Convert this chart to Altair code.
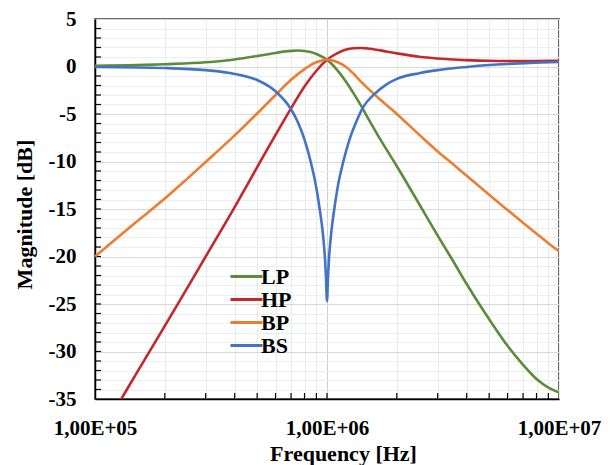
import altair as alt
import pandas as pd

# ---------------- data ----------------
lp_f = [1e5, 1.5e5, 2e5, 3e5, 4e5, 5e5, 6e5, 7e5, 7.5e5, 8e5, 8.5e5, 9e5, 9.5e5, 1e6,
        1.1e6, 1.2e6, 1.3e6, 1.4e6, 1.5e6, 1.7e6, 2e6, 2.5e6, 3e6, 3.5e6, 4e6, 4.5e6,
        5e6, 6e6, 7e6, 8e6, 9e6, 1e7]
lp_db = [0.07, 0.14, 0.24, 0.44, 0.74, 1.10, 1.43, 1.64, 1.68, 1.64, 1.52, 1.32, 1.05, 0.72,
         -0.30, -1.50, -2.80, -4.10, -5.40, -7.70, -10.5, -14.5, -17.8, -20.5, -22.9, -24.9,
         -26.6, -29.4, -31.4, -32.9, -33.8, -34.3]

hp_f = [1e5, 1.2e5, 1.5e5, 2e5, 2.5e5, 3e5, 4e5, 5e5, 6e5, 7e5, 8e5, 9e5, 9.5e5, 1e6,
        1.05e6, 1.1e6, 1.2e6, 1.3e6, 1.4e6, 1.5e6, 1.7e6, 2e6, 2.5e6, 3e6, 3.5e6, 4e6,
        5e6, 6e6, 8e6, 1e7]
hp_db = [-39.6, -36.4, -32.4, -27.3, -23.3, -20.0, -14.8, -10.6, -7.2, -4.4, -2.1, -0.45, 0.2,
         0.72, 1.08, 1.36, 1.76, 1.92, 1.95, 1.90, 1.70, 1.38, 1.02, 0.84, 0.73, 0.67,
         0.60, 0.58, 0.58, 0.60]

bp_f = [1e5, 1.5e5, 2e5, 2.5e5, 3e5, 4e5, 5e5, 6e5, 7e5, 8e5, 8.5e5, 9e5, 9.5e5, 1e6,
        1.05e6, 1.1e6, 1.2e6, 1.3e6, 1.4e6, 1.5e6, 1.7e6, 2e6, 2.5e6, 3e6, 3.5e6, 4e6,
        5e6, 6e6, 7e6, 8e6, 9e6, 1e7]
bp_db = [-20.0, -16.4, -13.9, -11.8, -10.05, -7.25, -4.95, -3.0, -1.4, -0.28, 0.14, 0.44, 0.64,
         0.74, 0.66, 0.50, 0.0, -0.75, -1.6, -2.3, -3.5, -5.0, -7.2, -8.95, -10.3, -11.5,
         -13.5, -15.1, -16.45, -17.6, -18.6, -19.45]

bs_f = [1e5, 2e5, 3e5, 4e5, 5e5, 6e5, 7e5, 7.5e5, 8e5, 8.5e5, 9e5, 9.3e5, 9.6e5, 9.8e5, 9.9e5,
        1e6, 1.01e6, 1.02e6, 1.042e6, 1.075e6, 1.11e6, 1.176e6, 1.25e6, 1.333e6, 1.43e6, 1.6e6,
        1.8e6, 2e6, 2.5e6, 3e6, 4e6, 5e6, 6e6, 7.5e6, 1e7]
bs_db = [-0.05, -0.16, -0.38, -0.78, -1.42, -2.6, -4.5, -5.9, -7.7, -10.0, -12.8, -15.0, -17.6,
         -20.2, -22.2, -24.7, -22.2, -20.2, -17.6, -15.0, -12.8, -10.0, -7.7, -5.9, -4.3, -2.9,
         -1.9, -1.3, -0.7, -0.38, -0.05, 0.15, 0.27, 0.38, 0.47]

series_names = ["LP", "HP", "BP", "BS"]
series_colors = ["#5b8c3a", "#c5282b", "#ed7d31", "#4472c4"]

x_tick_values = [1e5, 2e5, 3e5, 4e5, 5e5, 6e5, 7e5, 8e5, 9e5,
                 1e6, 2e6, 3e6, 4e6, 5e6, 6e6, 7e6, 8e6, 9e6, 1e7]
x_decades = [1e5, 1e6, 1e7]
x_decade_labels = ["1,00E+05", "1,00E+06", "1,00E+07"]
y_tick_values = list(range(-35, 6))

# ---------------- build tables ----------------
rows = []
for name, fs, dbs in zip(series_names, [lp_f, hp_f, bp_f, bs_f], [lp_db, hp_db, bp_db, bs_db]):
    for i, (f, d) in enumerate(zip(fs, dbs)):
        rows.append({"series": name, "f": f, "db": d, "i": i})
df = pd.DataFrame(rows)

xt_df = pd.DataFrame({"f": x_tick_values[1:-1]})
yt_df = pd.DataFrame({"db": y_tick_values[1:-1]})

FONT = "Liberation Serif"

label_expr = " : ".join(
    f"datum.value == {int(v)} ? '{t}'" for v, t in zip(x_decades, x_decade_labels)
) + " : ''"

xscale = alt.Scale(type="log", domain=[1e5, 1e7], nice=False)
yscale = alt.Scale(domain=[-35, 5], nice=False, zero=False)

xaxis = alt.Axis(
    values=x_tick_values, labelExpr=label_expr, labelFlush=False, labelOverlap=False,
    ticks=False, tickSize=0, domain=True, domainColor="#000000", domainWidth=1.5,
    grid=True,
    gridColor={"condition": {"test": "datum.value == 1000000", "value": "#cfcfcf"},
               "value": "#ebebeb"},
    gridWidth=1,
    labelFont=FONT, labelFontSize=21, labelFontWeight="bold", labelColor="#000000",
    labelBaseline="alphabetic", labelPadding=35,
    titleFont=FONT, titleFontSize=22, titleFontWeight="bold", titleColor="#000000",
    titleX=248, titleY=61, titleBaseline="alphabetic",
)
yaxis = alt.Axis(
    values=y_tick_values,
    labelExpr="datum.value % 5 == 0 ? '' + datum.value : ''",
    labelFlush=False, labelOverlap=False,
    ticks=False, tickSize=0, domain=True, domainColor="#000000", domainWidth=1.5,
    grid=True,
    gridColor={"condition": {"test": "datum.value % 5 == 0", "value": "#d9d9d9"},
               "value": "#eeeeee"},
    gridWidth=1,
    labelFont=FONT, labelFontSize=21, labelFontWeight="bold", labelColor="#000000",
    labelPadding=19,
    titleFont=FONT, titleFontSize=22, titleFontWeight="bold", titleColor="#000000",
    titleX=-59, titleY=195, titleBaseline="bottom", titleAngle=270,
)

X = alt.X("f:Q", scale=xscale, axis=xaxis, title="Frequency [Hz]")
Y = alt.Y("db:Q", scale=yscale, axis=yaxis, title="Magnitude [dB]")

lines = alt.Chart(df).mark_line(strokeWidth=2.6, clip=True, interpolate="monotone").encode(
    x=X, y=Y,
    color=alt.Color(
        "series:N",
        scale=alt.Scale(domain=series_names, range=series_colors),
        sort=series_names,
        legend=alt.Legend(
            title=None, orient="none", legendX=140, legendY=246, direction="vertical",
            symbolType="M-1.6,0H1.6", symbolSize=400, symbolStrokeWidth=3,
            labelFont=FONT, labelFontSize=22, labelFontWeight="bold", labelColor="#000000",
            labelOffset=3, padding=0, rowPadding=0,
        ),
    ),
    order="i:Q",
)

xticks = alt.Chart(xt_df).mark_rule(color="#000000", strokeWidth=1.2).encode(
    x=X, y=alt.value(380), y2=alt.value(374)
)
yticks = alt.Chart(yt_df).mark_rule(color="#000000", strokeWidth=1.2).encode(
    y=Y, x=alt.value(0), x2=alt.value(6)
)

chart = alt.layer(xticks, yticks, lines).properties(
    width=464, height=380,
    autosize="none",
    padding={"left": 95, "top": 19, "right": 57, "bottom": 66},
    background="white",
).configure_view(stroke="#3a3a3a", strokeWidth=1.5)

chart.save("out.html", embed_options={"renderer": "svg", "actions": False})
